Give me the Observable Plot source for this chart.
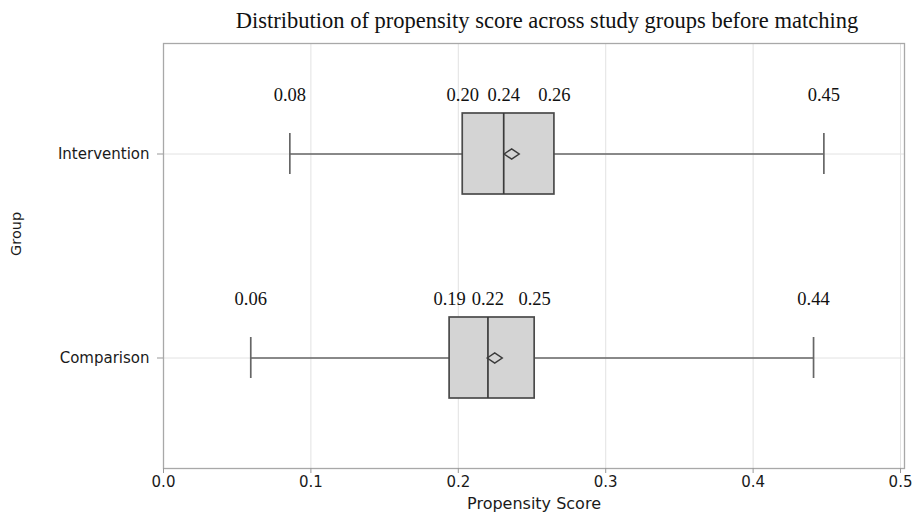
<!DOCTYPE html>
<html><head><meta charset="utf-8">
<script src="https://cdn.jsdelivr.net/npm/d3@7"></script>
<script src="https://cdn.jsdelivr.net/npm/@observablehq/plot@0.6"></script>
<style>body{margin:0;background:#fff}</style>
</head><body><div id="chart"></div>
<script>
const titleText = "Distribution of propensity score across study groups before matching";
const xLabel = "Propensity Score";
const yLabel = "Group";
const groups = ["Intervention", "Comparison"];
const minV  = [0.0857, 0.0592];
const q1V   = [0.2030, 0.1941];
const medV  = [0.2308, 0.2201];
const meanV = [0.2362, 0.2247];
const q3V   = [0.2652, 0.2518];
const maxV  = [0.4480, 0.4410];
const minLab = ["0.08", "0.06"];
const q1Lab  = ["0.20", "0.19"];
const medLab = ["0.24", "0.22"];
const q3Lab  = ["0.26", "0.25"];
const maxLab = ["0.45", "0.44"];
const xTicks = [0, 0.1, 0.2, 0.3, 0.4, 0.5];
const xTickLabels = ["0.0", "0.1", "0.2", "0.3", "0.4", "0.5"];

const stats = groups.map((g, i) => ({group: g, min: minV[i], q1: q1V[i], med: medV[i], mean: meanV[i], q3: q3V[i], max: maxV[i]}));
const labels = groups.flatMap((g, i) => [
  {group: g, x: minV[i], text: minLab[i]},
  {group: g, x: q1V[i], text: q1Lab[i]},
  {group: g, x: medV[i], text: medLab[i]},
  {group: g, x: q3V[i], text: q3Lab[i]},
  {group: g, x: maxV[i], text: maxLab[i]}
]);

const wideDiamond = {
  draw(ctx, size) {
    const k = Math.sqrt(size / Math.PI) / 5;
    const hw = 7.5 * k, hh = 5.2 * k;
    ctx.moveTo(-hw, 0); ctx.lineTo(0, -hh); ctx.lineTo(hw, 0); ctx.lineTo(0, hh); ctx.closePath();
  }
};

const sans = "DejaVu Sans";
const serif = "Liberation Serif";

const chart = Plot.plot({
  width: 915, height: 517,
  marginLeft: 163, marginRight: 11, marginTop: 43, marginBottom: 49,
  style: {fontFamily: sans, background: "#fff"},
  x: {domain: [0, 0.5027]},
  y: {domain: groups, paddingInner: 0.603, paddingOuter: 0.343},
  marks: [
    Plot.gridX(xTicks, {stroke: "#e2e2e2", strokeOpacity: 1}),
    Plot.gridY(groups, {stroke: "#e2e2e2", strokeOpacity: 1}),
    Plot.frame({stroke: "#a8a8a8", strokeWidth: 1.3}),
    Plot.axisX(xTicks, {tickSize: 5, tickPadding: 3, fontSize: 15, stroke: "#999", fill: "#1a1a1a", label: null,
      tickFormat: d => xTickLabels[xTicks.indexOf(d)]}),
    Plot.axisY({tickSize: 6, tickPadding: 8, fontSize: 15, stroke: "#999", fill: "#1a1a1a", label: null}),
    Plot.ruleY(stats, {y: "group", x1: "min", x2: "q1", stroke: "#666", strokeWidth: 1.5}),
    Plot.ruleY(stats, {y: "group", x1: "q3", x2: "max", stroke: "#666", strokeWidth: 1.5}),
    Plot.tickX(stats, {y: "group", x: "min", stroke: "#666", strokeWidth: 1.7, insetTop: 20, insetBottom: 20}),
    Plot.tickX(stats, {y: "group", x: "max", stroke: "#666", strokeWidth: 1.7, insetTop: 20, insetBottom: 20}),
    Plot.barX(stats, {y: "group", x1: "q1", x2: "q3", fill: "#d4d4d4", stroke: "#4a4a4a", strokeWidth: 1.7}),
    Plot.tickX(stats, {y: "group", x: "med", stroke: "#3a3a3a", strokeWidth: 1.7}),
    Plot.dot(stats, {y: "group", x: "mean", r: 5, symbol: wideDiamond, stroke: "#3a3a3a", strokeWidth: 1.5, fill: "none"}),
    Plot.text(labels, {y: "group", x: "x", text: "text", dy: -59, fontFamily: serif, fontSize: 18.5, fill: "#111"}),
    Plot.text([titleText], {frameAnchor: "top", dx: 13, dy: -31, fontFamily: serif, fontSize: 22.5, fill: "#111"}),
    Plot.text([xLabel], {frameAnchor: "bottom", dy: 40, fontSize: 16, fill: "#1a1a1a"}),
    Plot.text([yLabel], {frameAnchor: "left", dx: -147, rotate: -90, fontSize: 14.5, fill: "#1a1a1a"})
  ]
});
document.getElementById("chart").appendChild(chart);
</script>
</body></html>
